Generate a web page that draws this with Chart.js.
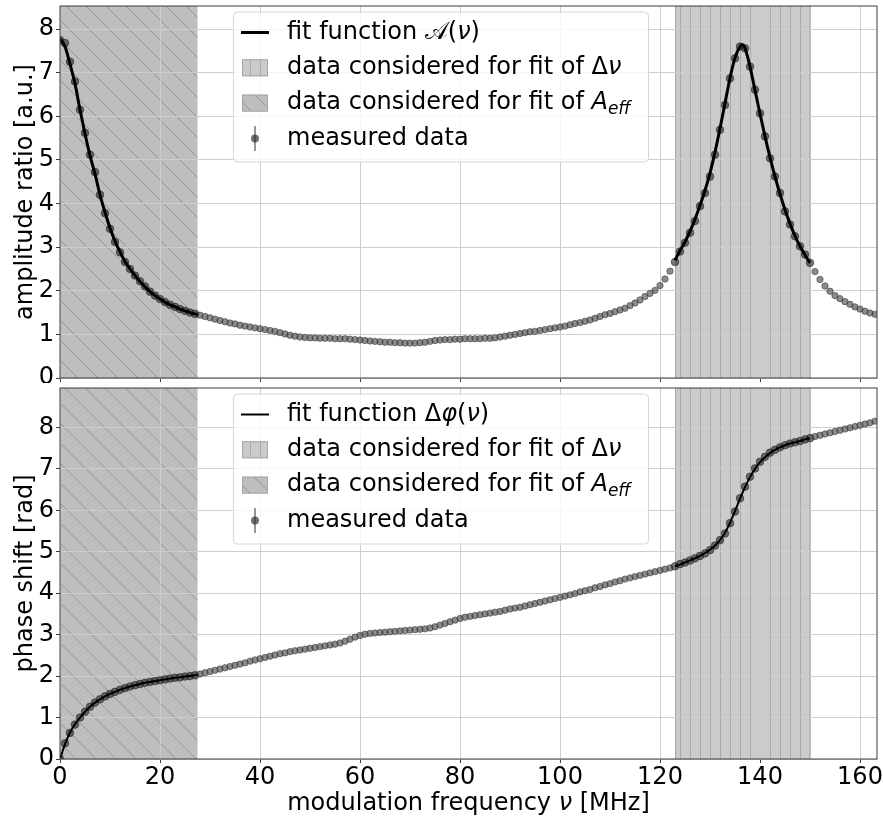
<!DOCTYPE html>
<html>
<head>
<meta charset="utf-8">
<script src="https://cdn.jsdelivr.net/npm/chart.js@4.4.1/dist/chart.umd.min.js"></script>
<style>
  html, body { margin: 0; padding: 0; background: #fff; }
  #wrap { position: relative; width: 883px; height: 816px; }
  canvas { position: absolute; left: 0; }
  #ampChart { top: 0; }
  #phaseChart { top: 383px; }
</style>
</head>
<body>
<div id="wrap">
  <canvas id="ampChart" width="883" height="383"></canvas>
  <canvas id="phaseChart" width="883" height="433"></canvas>
</div>
<script>
// Resonance sweep: amplitude ratio and phase shift vs modulation frequency.

// measured frequencies [MHz]
const NU = [
  0,1,2,3,4,5,6,7,8,9,10,11,12,13,14,15,16,17,18,19,20,21,22,23,24,25,26,27,28,29,
  30,31,32,33,34,35,36,37,38,39,40,41,42,43,44,45,46,47,48,49,50,51,52,53,54,55,56,57,58,59,
  60,61,62,63,64,65,66,67,68,69,70,71,72,73,74,75,76,77,78,79,80,81,82,83,84,85,86,87,88,89,
  90,91,92,93,94,95,96,97,98,99,100,101,102,103,104,105,106,107,108,109,110,111,112,113,114,115,116,117,118,119,
  120,121,122,123,124,125,126,127,128,129,130,131,132,133,134,135,136,137,138,139,140,141,142,143,144,145,146,147,148,149,
  150,151,152,153,154,155,156,157,158,159,160,161,162,163,164
];

// measured amplitude ratio [a.u.]
const AMP = [
  7.75,7.68,7.25,6.80,6.15,5.62,5.12,4.72,4.20,3.78,3.42,3.12,2.88,2.66,2.50,2.35,2.22,2.10,1.98,1.89,
  1.81,1.74,1.68,1.63,1.58,1.54,1.50,1.47,1.44,1.41,1.38,1.35,1.32,1.29,1.26,1.24,1.21,1.19,1.17,1.15,
  1.13,1.11,1.09,1.07,1.04,1.01,0.98,0.96,0.94,0.93,0.92,0.92,0.91,0.91,0.91,0.90,0.90,0.90,0.89,0.88,
  0.87,0.86,0.85,0.84,0.83,0.82,0.82,0.81,0.81,0.80,0.80,0.80,0.81,0.82,0.84,0.86,0.87,0.88,0.88,0.89,
  0.89,0.90,0.90,0.90,0.90,0.91,0.91,0.92,0.94,0.96,0.98,1.00,1.02,1.04,1.06,1.07,1.09,1.11,1.13,1.15,
  1.17,1.19,1.22,1.25,1.27,1.30,1.33,1.37,1.41,1.45,1.48,1.52,1.56,1.60,1.66,1.72,1.79,1.87,1.94,2.01,
  2.12,2.27,2.45,2.66,2.90,3.10,3.33,3.60,3.94,4.24,4.62,5.12,5.69,6.26,6.87,7.33,7.60,7.56,7.14,6.61,
  6.07,5.54,5.04,4.62,4.24,3.82,3.52,3.25,3.02,2.83,2.64,2.44,2.26,2.11,1.99,1.89,1.82,1.75,1.69,1.63,
  1.58,1.53,1.49,1.46,1.43
];

// measured phase shift [rad]
const PHASE = [
  0.00,0.38,0.63,0.83,1.00,1.14,1.26,1.36,1.44,1.51,1.57,1.62,1.67,1.71,1.75,1.78,1.81,1.84,1.86,1.88,
  1.90,1.92,1.94,1.96,1.97,1.99,2.00,2.02,2.05,2.08,2.11,2.14,2.17,2.20,2.23,2.26,2.29,2.32,2.36,2.39,
  2.42,2.45,2.48,2.51,2.54,2.56,2.59,2.61,2.63,2.65,2.67,2.69,2.71,2.73,2.75,2.77,2.80,2.84,2.89,2.94,
  2.98,3.01,3.03,3.04,3.05,3.06,3.07,3.08,3.09,3.10,3.11,3.12,3.13,3.14,3.16,3.19,3.23,3.27,3.31,3.35,
  3.39,3.42,3.44,3.46,3.48,3.50,3.52,3.54,3.56,3.59,3.62,3.64,3.66,3.69,3.72,3.75,3.78,3.81,3.84,3.87,
  3.90,3.93,3.96,3.99,4.03,4.06,4.09,4.13,4.16,4.20,4.23,4.27,4.30,4.34,4.37,4.40,4.43,4.46,4.49,4.52,
  4.55,4.58,4.61,4.65,4.70,4.74,4.79,4.84,4.90,4.96,5.04,5.15,5.28,5.44,5.69,5.97,6.29,6.57,6.81,7.01,
  7.17,7.29,7.39,7.46,7.52,7.57,7.61,7.64,7.67,7.71,7.74,7.78,7.81,7.84,7.87,7.90,7.93,7.96,7.99,8.02,
  8.05,8.08,8.11,8.15,8.18
];

// fit curves
const FIT_LOW_NU = [0,1,2,3,4,5,6,7,8,9,10,11,12,13,14,15,16,17,18,19,20,21,22,23,24,25,26,27,27.5];
const FIT_AMP_LOW = [7.78,7.60,7.20,6.75,6.15,5.60,5.10,4.68,4.20,3.80,3.44,3.14,2.89,2.67,2.50,2.35,2.21,2.09,1.98,1.89,1.81,1.74,1.68,1.63,1.58,1.54,1.50,1.47,1.46];
const FIT_PHASE_LOW = [0.00,0.36,0.64,0.84,1.00,1.14,1.26,1.36,1.44,1.51,1.57,1.62,1.67,1.71,1.75,1.78,1.81,1.84,1.86,1.88,1.90,1.92,1.94,1.96,1.97,1.99,2.00,2.02,2.03];

const FIT_AMP_HIGH_NU = [123,124,125,126,127,128,129,130,131,132,133,134,135,136,136.5,137,138,139,140,141,142,143,144,145,146,147,148,149,150];
const FIT_AMP_HIGH = [2.70,2.92,3.12,3.36,3.64,3.96,4.30,4.70,5.18,5.72,6.30,6.88,7.34,7.60,7.64,7.56,7.14,6.60,6.06,5.54,5.06,4.62,4.22,3.86,3.54,3.26,3.02,2.82,2.64];
const FIT_PHASE_HIGH_NU = [123,124,125,126,127,128,129,130,131,132,133,134,135,136,137,138,139,140,141,142,143,144,145,146,147,148,149,150];
const FIT_PHASE_HIGH = [4.65,4.69,4.74,4.79,4.84,4.90,4.97,5.05,5.15,5.28,5.46,5.70,5.98,6.28,6.56,6.80,7.00,7.16,7.28,7.38,7.46,7.52,7.57,7.61,7.64,7.67,7.71,7.74];

// frequency windows used for the two fits [MHz]
const AEFF_RANGE = [0, 27.5];
const DNU_RANGE = [123, 150.1];

const X_TICKS = [0, 20, 40, 60, 80, 100, 120, 140, 160];
const Y_TICKS = [0, 1, 2, 3, 4, 5, 6, 7, 8];

const FONT = '"DejaVu Sans", sans-serif';
const FS = 24;

function hatch(ctx, kind) {
  const c = document.createElement('canvas');
  const s = kind === 'diag' ? 20 : 10;
  c.width = s; c.height = s;
  const g = c.getContext('2d');
  g.fillStyle = kind === 'diag' ? '#bebebe' : '#cbcbcb';
  g.fillRect(0, 0, s, s);
  g.strokeStyle = kind === 'diag' ? '#959595' : '#aaaaaa';
  g.lineWidth = 1;
  g.beginPath();
  if (kind === 'diag') {
    g.moveTo(-2, -2); g.lineTo(s + 2, s + 2);
    g.moveTo(-2, s - 2); g.lineTo(2, s + 2);
    g.moveTo(s - 2, -2); g.lineTo(s + 2, 2);
  } else {
    g.moveTo(0.5, 0); g.lineTo(0.5, s);
  }
  g.stroke();
  return ctx.createPattern(c, 'repeat');
}

function inFit(x) {
  return (x >= AEFF_RANGE[0] && x <= AEFF_RANGE[1]) || (x >= DNU_RANGE[0] && x <= DNU_RANGE[1]);
}

// mixed upright/italic/subscript text, drawn left to right
function drawRich(ctx, parts, x, y) {
  for (const [txt, st] of parts) {
    let font = FS + 'px ' + FONT, dy = 0;
    if (st === 'i') font = 'italic ' + font;
    if (st === 'sub') { font = 'italic ' + Math.round(FS * 0.7) + 'px ' + FONT; dy = 6; }
    if (st === 'cal') font = FS + 'px "DejaVu Sans", "DejaVu Serif", serif';
    ctx.font = font;
    ctx.fillText(txt, x, y + dy);
    x += ctx.measureText(txt).width;
  }
  return x;
}

const shadePlugin = {
  id: 'shade',
  beforeDraw(chart) {
    const {ctx, chartArea: a, scales: {x}} = chart;
    ctx.save();
    ctx.beginPath();
    ctx.rect(a.left, a.top, a.right - a.left, a.bottom - a.top);
    ctx.clip();
    let x0 = x.getPixelForValue(AEFF_RANGE[0]), x1 = x.getPixelForValue(AEFF_RANGE[1]);
    ctx.fillStyle = hatch(ctx, 'diag');
    ctx.fillRect(x0, a.top, x1 - x0, a.bottom - a.top);
    x0 = x.getPixelForValue(DNU_RANGE[0]); x1 = x.getPixelForValue(DNU_RANGE[1]);
    ctx.fillStyle = hatch(ctx, 'vert');
    ctx.fillRect(x0, a.top, x1 - x0, a.bottom - a.top);
    ctx.strokeStyle = '#a6a6a6';
    ctx.lineWidth = 1;
    ctx.strokeRect(x0 + 0.5, a.top - 1, x1 - x0 - 1, a.bottom - a.top + 2);
    ctx.restore();
  }
};

const framePlugin = {
  id: 'frame',
  afterDraw(chart, args, opts) {
    const {ctx, chartArea: a} = chart;
    ctx.save();
    ctx.strokeStyle = '#3c3c3c';
    ctx.lineWidth = 1;
    ctx.strokeRect(a.left, a.top, a.right - a.left, a.bottom - a.top);

    // legend box in the upper middle of the panel
    const bx = a.left + 173, by = a.top + 5.5, bw = 415, bh = 150;
    ctx.fillStyle = 'rgba(255,255,255,0.82)';
    ctx.strokeStyle = '#d6d6d6';
    ctx.beginPath();
    ctx.roundRect(bx + 0.5, by + 0.5, bw, bh, 4);
    ctx.fill();
    ctx.stroke();

    opts.entries.forEach((e, i) => {
      const cy = by + 21 + i * 35.3;
      const hx = bx + 8, hw = 28;
      if (e.kind === 'line') {
        ctx.strokeStyle = '#000';
        ctx.lineWidth = opts.lineWidth;
        ctx.beginPath(); ctx.moveTo(hx, cy); ctx.lineTo(hx + hw, cy); ctx.stroke();
      } else if (e.kind === 'vert' || e.kind === 'diag') {
        ctx.fillStyle = hatch(ctx, e.kind);
        ctx.fillRect(hx + 1, cy - 8.5, hw - 2, 17);
        ctx.strokeStyle = '#a6a6a6';
        ctx.lineWidth = 1;
        ctx.strokeRect(hx + 1.5, cy - 8, hw - 3, 16);
      } else {
        ctx.strokeStyle = 'rgba(50,50,50,0.65)';
        ctx.lineWidth = 1.6;
        ctx.beginPath(); ctx.moveTo(hx + hw / 2, cy - 12.5); ctx.lineTo(hx + hw / 2, cy + 12.5); ctx.stroke();
        ctx.fillStyle = 'rgba(50,50,50,0.7)';
        ctx.beginPath(); ctx.arc(hx + hw / 2, cy, 4, 0, Math.PI * 2); ctx.fill();
      }
      ctx.fillStyle = '#000';
      ctx.textBaseline = 'middle';
      ctx.textAlign = 'left';
      drawRich(ctx, e.parts, bx + 54, cy);
    });

    if (opts.xTitle) {
      ctx.fillStyle = '#000';
      ctx.textBaseline = 'alphabetic';
      let w = 0;
      for (const [t, st] of opts.xTitle) {
        ctx.font = (st === 'i' ? 'italic ' : '') + FS + 'px ' + FONT;
        w += ctx.measureText(t).width;
      }
      drawRich(ctx, opts.xTitle, (a.left + a.right) / 2 - w / 2, chart.height - 6);
    }
    ctx.restore();
  }
};

function makePanel(canvasId, opt) {
  const pts = NU.map((x, i) => ({x, y: opt.values[i]}));
  const fitLine = (xs, ys) => ({
    data: xs.map((x, i) => ({x, y: ys[i]})),
    showLine: true,
    borderColor: '#000',
    borderWidth: opt.fitWidth,
    pointRadius: 0,
    cubicInterpolationMode: 'monotone',
    clip: 0
  });

  return new Chart(document.getElementById(canvasId).getContext('2d'), {
    type: 'scatter',
    data: {
      datasets: [
        fitLine(opt.fitLowNu, opt.fitLow),
        fitLine(opt.fitHighNu, opt.fitHigh),
        {
          data: pts.filter(p => inFit(p.x)),
          pointRadius: 3.8,
          backgroundColor: 'rgba(40,40,40,0.62)',
          borderColor: 'rgba(30,30,30,0.55)',
          borderWidth: 1,
          clip: 0
        },
        {
          data: pts.filter(p => !inFit(p.x)),
          pointRadius: 3.2,
          backgroundColor: 'rgba(70,70,70,0.62)',
          borderColor: 'rgba(55,55,55,0.55)',
          borderWidth: 1,
          clip: 0
        }
      ]
    },
    options: {
      responsive: false,
      animation: false,
      devicePixelRatio: 1,
      events: [],
      layout: {padding: {top: opt.padTop, right: 6, left: 0, bottom: 0}},
      plugins: {
        legend: {display: false},
        tooltip: {enabled: false},
        frame: {entries: opt.legend, lineWidth: opt.fitWidth, xTitle: opt.xTitle}
      },
      scales: {
        x: {
          type: 'linear',
          min: 0,
          max: 163.4,
          grid: {color: '#cdcdcd', tickColor: '#3c3c3c', tickLength: 4},
          border: {display: false},
          ticks: {
            display: opt.showX,
            padding: 0,
            color: '#000',
            font: {family: FONT, size: FS},
            callback: v => String(v)
          },
          afterBuildTicks: axis => { axis.ticks = X_TICKS.map(v => ({value: v})); },
          afterFit: axis => {
            axis.height = opt.showX ? 57 : 4;
            axis.paddingLeft = 0; axis.paddingRight = 0;
          }
        },
        y: {
          min: 0,
          max: opt.yMax,
          grid: {color: '#cdcdcd', tickColor: '#3c3c3c', tickLength: 4},
          border: {display: false},
          ticks: {
            padding: 2,
            color: '#000',
            font: {family: FONT, size: FS},
            callback: v => String(v)
          },
          title: {
            display: true,
            text: opt.yTitle,
            color: '#000',
            font: {family: FONT, size: FS},
            padding: {top: 11, bottom: 0}
          },
          afterBuildTicks: axis => { axis.ticks = Y_TICKS.map(v => ({value: v})); },
          afterFit: axis => {
            axis.width = 60;
            axis.paddingTop = 0; axis.paddingBottom = 0;
          }
        }
      }
    },
    plugins: [shadePlugin, framePlugin]
  });
}

makePanel('ampChart', {
  values: AMP,
  fitLowNu: FIT_LOW_NU, fitLow: FIT_AMP_LOW,
  fitHighNu: FIT_AMP_HIGH_NU, fitHigh: FIT_AMP_HIGH,
  fitWidth: 3,
  yMax: 8.53,
  padTop: 6,
  showX: false,
  yTitle: 'amplitude ratio [a.u.]',
  legend: [
    {kind: 'line', parts: [['fit function '], ['𝒜', 'cal'], ['('], ['ν', 'i'], [')']]},
    {kind: 'vert', parts: [['data considered for fit of Δ'], ['ν', 'i']]},
    {kind: 'diag', parts: [['data considered for fit of '], ['A', 'i'], ['eff', 'sub']]},
    {kind: 'err', parts: [['measured data']]}
  ]
});

makePanel('phaseChart', {
  values: PHASE,
  fitLowNu: FIT_LOW_NU, fitLow: FIT_PHASE_LOW,
  fitHighNu: FIT_PHASE_HIGH_NU, fitHigh: FIT_PHASE_HIGH,
  fitWidth: 2,
  yMax: 8.95,
  padTop: 4,
  showX: true,
  yTitle: 'phase shift [rad]',
  xTitle: [['modulation frequency '], ['ν', 'i'], [' [MHz]']],
  legend: [
    {kind: 'line', parts: [['fit function Δ'], ['φ', 'i'], ['('], ['ν', 'i'], [')']]},
    {kind: 'vert', parts: [['data considered for fit of Δ'], ['ν', 'i']]},
    {kind: 'diag', parts: [['data considered for fit of '], ['A', 'i'], ['eff', 'sub']]},
    {kind: 'err', parts: [['measured data']]}
  ]
});
</script>
</body>
</html>
